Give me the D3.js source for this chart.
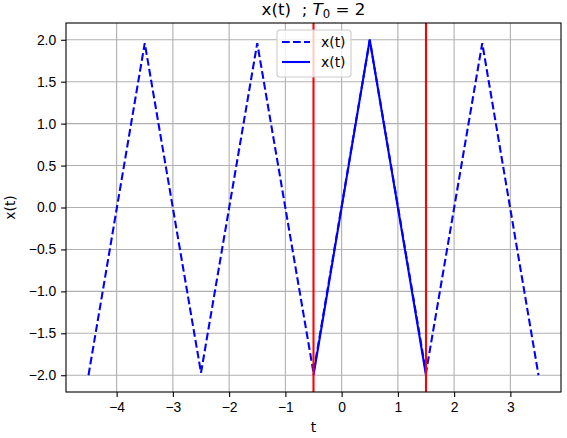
<!DOCTYPE html>
<html>
<head>
<meta charset="utf-8">
<script src="https://cdn.jsdelivr.net/npm/d3@7"></script>
<style>
  body { margin: 0; background: white; }
  svg { font-family: "DejaVu Sans", sans-serif; }
  .tick text { font-size: 13.9px; fill: black; }
</style>
</head>
<body>
<div id="chart"></div>
<script>
// periodic extension (dashed) and one period (solid)
var periodT = [-4.5, -3.5, -2.5, -1.5, -0.5, 0.5, 1.5, 2.5, 3.5];
var periodX = [-2.0, 1.96, -1.97, 1.96, -1.97, 2.0, -1.97, 1.96, -2.0];
var oneT = [-0.5, 0.5, 1.5];
var oneX = [-2.0, 2.0, -2.0];
var bounds = [-0.5, 1.5];
var xTicks = [-4, -3, -2, -1, 0, 1, 2, 3];
var yTicks = [-2.0, -1.5, -1.0, -0.5, 0.0, 0.5, 1.0, 1.5, 2.0];
var legendLabels = ['x(t)', 'x(t)'];

var W = 567, H = 438;
var margin = {left: 66, right: 6, top: 23, bottom: 46};
var lw = 2.08;

var svg = d3.select('#chart').append('svg')
  .attr('width', W)
  .attr('height', H);

var x = d3.scaleLinear()
  .domain([-4.9, 3.9])
  .range([margin.left, W - margin.right]);
var y = d3.scaleLinear()
  .domain([-2.2, 2.2])
  .range([H - margin.bottom, margin.top]);

// grid
var grid = svg.append('g');
grid.selectAll('.gx').data(xTicks).enter().append('line')
  .attr('x1', function(d){ return x(d); })
  .attr('x2', function(d){ return x(d); })
  .attr('y1', y.range()[0]).attr('y2', y.range()[1])
  .attr('stroke', '#b0b0b0').attr('stroke-width', 1.1);
grid.selectAll('.gy').data(yTicks).enter().append('line')
  .attr('y1', function(d){ return y(d); })
  .attr('y2', function(d){ return y(d); })
  .attr('x1', x.range()[0]).attr('x2', x.range()[1])
  .attr('stroke', '#b0b0b0').attr('stroke-width', 1.1);

var clip = svg.append('clipPath').attr('id', 'clip').append('rect')
  .attr('x', x.range()[0]).attr('y', y.range()[1])
  .attr('width', x.range()[1] - x.range()[0])
  .attr('height', y.range()[0] - y.range()[1]);

var plot = svg.append('g').attr('clip-path', 'url(#clip)');

var line = d3.line()
  .x(function(d){ return x(d[0]); })
  .y(function(d){ return y(d[1]); });

plot.append('path')
  .datum(d3.zip(periodT, periodX))
  .attr('d', line)
  .attr('fill', 'none')
  .attr('stroke', '#0000ff')
  .attr('stroke-width', lw)
  .attr('stroke-dasharray', '7.7,3.3');

plot.append('path')
  .datum(d3.zip(oneT, oneX))
  .attr('d', line)
  .attr('fill', 'none')
  .attr('stroke', '#0000ff')
  .attr('stroke-width', lw);

plot.selectAll('.bound').data(bounds).enter().append('line')
  .attr('x1', function(d){ return x(d); })
  .attr('x2', function(d){ return x(d); })
  .attr('y1', y.range()[0]).attr('y2', y.range()[1])
  .attr('stroke', '#ff0000')
  .attr('stroke-width', lw);

// axes
var xAxis = svg.append('g')
  .attr('transform', 'translate(0,' + y.range()[0] + ')')
  .call(d3.axisBottom(x).tickValues(xTicks).tickSize(4.9).tickPadding(4.9)
    .tickFormat(function(d){ return d < 0 ? '\u2212' + Math.abs(d) : d; }));
var yAxis = svg.append('g')
  .attr('transform', 'translate(' + x.range()[0] + ',0)')
  .call(d3.axisLeft(y).tickValues(yTicks).tickSize(4.9).tickPadding(4.9)
    .tickFormat(function(d){ return (d < 0 ? '\u2212' : '') + Math.abs(d).toFixed(1); }));
[xAxis, yAxis].forEach(function(a){
  a.select('.domain').remove();
  a.selectAll('.tick line').attr('stroke', 'black').attr('stroke-width', 1.1);
});

svg.append('rect')
  .attr('x', x.range()[0]).attr('y', y.range()[1])
  .attr('width', x.range()[1] - x.range()[0])
  .attr('height', y.range()[0] - y.range()[1])
  .attr('fill', 'none')
  .attr('stroke', 'black')
  .attr('stroke-width', 1.1);

// labels
svg.append('text')
  .attr('x', x(-0.5) + 0)
  .attr('x', (x.range()[0] + x.range()[1]) / 2)
  .attr('y', 432)
  .attr('text-anchor', 'middle')
  .attr('font-size', 13.9)
  .text('t');

svg.append('text')
  .attr('transform', 'translate(15,' + ((y.range()[0] + y.range()[1]) / 2) + ') rotate(-90)')
  .attr('text-anchor', 'middle')
  .attr('font-size', 13.9)
  .text('x(t)');

var title = svg.append('text')
  .attr('x', (x.range()[0] + x.range()[1]) / 2)
  .attr('y', 15)
  .attr('text-anchor', 'middle')
  .attr('font-size', 16.7);
title.append('tspan').text('x(t)  ; ').attr('xml:space', 'preserve').style('white-space', 'pre');
title.append('tspan').attr('font-style', 'italic').text('T');
title.append('tspan').attr('font-size', 11.7).attr('dy', 2.5).text('0');
title.append('tspan').attr('dy', -2.5).text(' = 2').style('white-space', 'pre');

// legend
var leg = svg.append('g').attr('transform', 'translate(277,30)');
leg.append('rect')
  .attr('width', 74).attr('height', 47)
  .attr('rx', 3)
  .attr('fill', 'white').attr('fill-opacity', 0.8)
  .attr('stroke', '#cccccc').attr('stroke-width', 1.1);
legendLabels.forEach(function(lab, i){
  var yy = 12 + i * 20;
  leg.append('line')
    .attr('x1', 5).attr('x2', 33)
    .attr('y1', yy).attr('y2', yy)
    .attr('stroke', '#0000ff').attr('stroke-width', lw)
    .attr('stroke-dasharray', i === 0 ? '7.7,3.3' : null);
  leg.append('text')
    .attr('x', 44).attr('y', yy + 5)
    .attr('font-size', 13.9)
    .text(lab);
});
</script>
</body>
</html>
